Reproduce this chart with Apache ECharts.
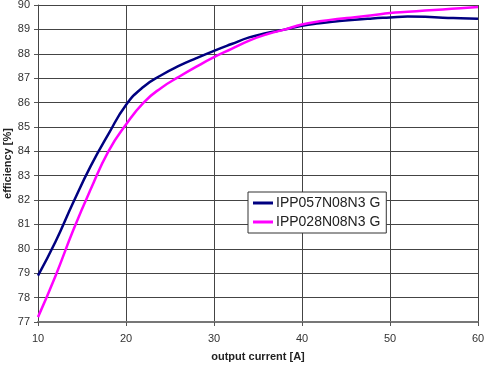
<!DOCTYPE html>
<html>
<head>
<meta charset="utf-8">
<script src="https://cdn.jsdelivr.net/npm/echarts@6/dist/echarts.min.js"></script>
<style>
  html, body { margin: 0; padding: 0; background: #fff; }
  #chart { width: 486px; height: 367px; }
</style>
</head>
<body>
<div id="chart"></div>
<script>
// output current [A]
const current = [10, 12, 14, 16, 18, 20, 22, 24, 26, 28, 30, 32, 34, 36, 38, 40, 42, 44, 46, 48, 50, 52, 54, 56, 58, 60]
// efficiency [%]
const effIPP057 = [78.9, 80.3, 81.9, 83.4, 84.7, 85.9, 86.65, 87.12, 87.5, 87.82, 88.12, 88.4, 88.67, 88.85, 88.99, 89.15, 89.25, 89.33, 89.4, 89.45, 89.49, 89.53, 89.52, 89.48, 89.46, 89.44]
const effIPP028 = [77.2, 78.9, 80.76, 82.45, 84.0, 85.1, 86.0, 86.6, 87.05, 87.47, 87.86, 88.2, 88.54, 88.8, 88.99, 89.2, 89.33, 89.43, 89.5, 89.58, 89.67, 89.72, 89.77, 89.82, 89.87, 89.92]
const seriesNames = ['IPP057N08N3 G', 'IPP028N08N3 G']
const seriesColors = ['#000080', '#ff00ff']

const chart = echarts.init(document.getElementById('chart'))

const toPairs = ys => current.map((x, i) => [x, ys[i]])

const makeSeries = (name, ys, color) => ({
  name: name,
  type: 'line',
  data: toPairs(ys),
  smooth: true,
  showSymbol: false,
  lineStyle: { color: color, width: 2.5 },
  itemStyle: { color: color }
})

chart.setOption({
  animation: false,
  textStyle: { fontFamily: 'Liberation Sans, Arial, sans-serif' },
  grid: { left: 38, right: 8, top: 5, bottom: 45, outerBoundsMode: 'none', containLabel: false },
  xAxis: {
    type: 'value',
    min: 10,
    max: 60,
    interval: 10,
    name: 'output current [A]',
    nameLocation: 'middle',
    nameGap: 29,
    nameMoveOverlap: false,
    nameTextStyle: { fontSize: 11, fontWeight: 'bold', color: '#222' },
    axisLine: { show: true, lineStyle: { color: '#777', width: 2 } },
    axisTick: { show: true, length: 4, lineStyle: { color: '#555' } },
    axisLabel: { fontSize: 11, color: '#333', margin: 11 },
    splitLine: { show: true, lineStyle: { color: '#444', width: 1 } }
  },
  yAxis: {
    type: 'value',
    min: 77,
    max: 90,
    interval: 1,
    name: 'efficiency [%]',
    nameLocation: 'middle',
    nameGap: 25,
    nameMoveOverlap: false,
    nameTextStyle: { fontSize: 11, fontWeight: 'bold', color: '#222' },
    axisLine: { show: true, lineStyle: { color: '#444', width: 1 } },
    axisTick: { show: true, length: 4, lineStyle: { color: '#555' } },
    axisLabel: { fontSize: 11, color: '#333', margin: 8 },
    splitLine: { show: true, lineStyle: { color: '#444', width: 1 } }
  },
  legend: {
    orient: 'vertical',
    left: 248,
    top: 192,
    backgroundColor: '#fff',
    borderColor: '#333',
    borderWidth: 1,
    borderRadius: 0,
    padding: [4, 6, 4, 5],
    itemGap: 5,
    itemWidth: 20,
    itemHeight: 3,
    icon: 'rect',
    textStyle: { fontSize: 14, color: '#222', padding: [0, 0, 0, -2] },
    data: seriesNames
  },
  series: [
    makeSeries(seriesNames[0], effIPP057, seriesColors[0]),
    makeSeries(seriesNames[1], effIPP028, seriesColors[1])
  ]
})
</script>
</body>
</html>
